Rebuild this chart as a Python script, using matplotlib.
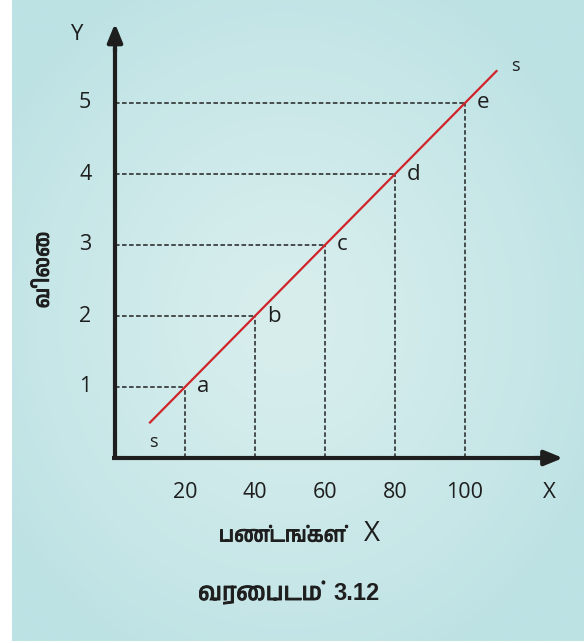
import matplotlib
matplotlib.use("Agg")
import matplotlib.pyplot as plt
import matplotlib.patheffects as pe
from matplotlib import font_manager as fm
import numpy as np

# data
goods = [20, 40, 60, 80, 100]
price = [1, 2, 3, 4, 5]
point_labels = ["a", "b", "c", "d", "e"]
line_x = [10, 109]
line_y = [0.5, 5.45]

# look for a font that can draw Tamil, fall back to DejaVu
tamil = [f.name for f in fm.fontManager.ttflist if "tamil" in f.name.lower()
         or "lohit" in f.name.lower() or "latha" in f.name.lower()]
tamil_family = [tamil[0], "DejaVu Sans"] if tamil else ["DejaVu Sans"]
num_font = "Open Sans"
ink = "#1e1e1e"
# the Tamil font has no bold face, so thicken it with a stroke
fake_bold = [pe.withStroke(linewidth=0.65, foreground=ink)]

fig = plt.figure(figsize=(5.84, 6.43), dpi=100)
ax = fig.add_axes([0, 0, 1, 1])
# pixel mapping: x_px = 115 + 3.5*x, y_px = 458 - 71*y
ax.set_xlim(-115 / 3.5, (584 - 115) / 3.5)
ax.set_ylim((458 - 643) / 71, 458 / 71)
ax.axis("off")

# teal panel with lighter centre
gx, gy = np.meshgrid(np.linspace(0, 1, 300), np.linspace(0, 1, 300))
r = np.sqrt(((gx - 0.48) / 0.6) ** 2 + ((gy - 0.5) / 0.6) ** 2)
r = np.clip(r, 0, 1)
edge = np.array([189, 226, 228]) / 255
centre = np.array([216, 238, 237]) / 255
img = centre + (edge - centre) * r[..., None] ** 1.3
x0 = (12 - 115) / 3.5
y0 = (458 - 641) / 71
ax.imshow(img, extent=[x0, (584 - 115) / 3.5, y0, 458 / 71],
          aspect="auto", zorder=0, origin="lower")

# axes arrows
xmin, xmax = -0.9, 128
ymin, ymax = -0.03, 6.12
ax.plot([xmin, xmax - 5], [0, 0], color=ink, lw=3, solid_capstyle="butt", zorder=3)
ax.plot([0, 0], [ymin, ymax - 0.35], color=ink, lw=3, solid_capstyle="butt", zorder=3)
ax.annotate("", xy=(xmax, 0), xytext=(xmax - 8, 0),
            arrowprops=dict(arrowstyle="-|>,head_length=1.1,head_width=0.45",
                            color=ink, lw=3, shrinkA=0, shrinkB=0), zorder=4)
ax.annotate("", xy=(0, ymax), xytext=(0, ymax - 0.4),
            arrowprops=dict(arrowstyle="-|>,head_length=1.1,head_width=0.45",
                            color=ink, lw=3, shrinkA=0, shrinkB=0), zorder=4)

# dashed guide lines
for gx_, py in zip(goods, price):
    ax.plot([0, gx_], [py, py], color="#222222", lw=1.1, ls=(0, (3, 1.6)), zorder=2)
    ax.plot([gx_, gx_], [0, py], color="#222222", lw=1.1, ls=(0, (3, 1.6)), zorder=2)

# supply line
ax.plot(line_x, line_y, color="#d0242b", lw=1.6, zorder=5)

# point labels
for gx_, py, lab in zip(goods, price, point_labels):
    ax.text(gx_ + 3.5, py, lab, fontsize=16, family=num_font, color=ink,
            ha="left", va="center", zorder=6)
ax.text(line_x[0] + 1, line_y[0] - 0.27, "s", fontsize=13, family=num_font,
        color=ink, ha="center", va="center")
ax.text(line_x[1] + 5.5, line_y[1] + 0.07, "s", fontsize=13, family=num_font,
        color=ink, ha="center", va="center")

# tick labels
for gx_ in goods:
    ax.text(gx_, -0.48, str(gx_), fontsize=15.5, family=num_font, color=ink,
            ha="center", va="center")
for py in price:
    ax.text(-8.5, py, str(py), fontsize=15.5, family=num_font, color=ink,
            ha="center", va="center")
ax.text(124, -0.48, "X", fontsize=16, family=num_font, color=ink,
        ha="center", va="center")
ax.text(-11, 5.97, "Y", fontsize=16, family=num_font, color=ink,
        ha="center", va="center")

# axis titles and caption
ax.text(-20.5, (458 - 270) / 71, "விலை", fontsize=15, family=tamil_family,
        rotation=90, ha="center", va="center", color=ink, path_effects=fake_bold)
ax.text((282 - 115) / 3.5, (458 - 536) / 71, "பண்டங்கள்", fontsize=15,
        family=tamil_family, ha="center", va="center", color=ink,
        path_effects=fake_bold)
ax.text((372 - 115) / 3.5, (458 - 534) / 71, "X", fontsize=20,
        family=num_font, ha="center", va="center", color=ink)
cap_y = (458 - 600) / 71
ax.text((322 - 115) / 3.5, cap_y, "வரைபடம்", fontsize=17.5,
        family=tamil_family, ha="right", va="baseline", color=ink,
        path_effects=fake_bold)
ax.text((333 - 115) / 3.5, cap_y, "3.12", fontsize=17,
        family="Liberation Sans", fontweight="bold", ha="left", va="baseline",
        color=ink)

fig.savefig("out.png", dpi=100, facecolor="white")
